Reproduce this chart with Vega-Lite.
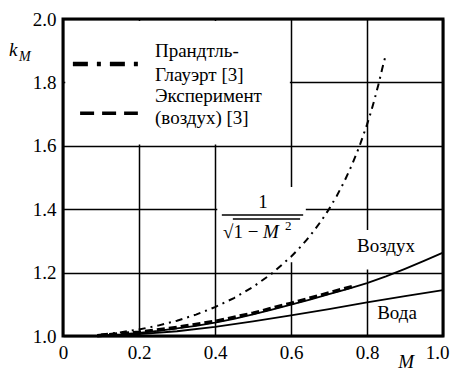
{
  "$schema": "https://vega.github.io/schema/vega-lite/v6.json",
  "width": 380,
  "height": 317,
  "autosize": {"type": "none"},
  "padding": {"left": 63, "top": 19, "right": 10, "bottom": 38},
  "background": "white",
  "config": {
    "view": {"stroke": "black", "strokeWidth": 3},
    "font": "Liberation Serif",
    "axis": {
      "domain": false, "ticks": false, "grid": true,
      "gridColor": "black", "gridWidth": 1.5, "gridOpacity": 1,
      "labelFont": "Liberation Serif", "labelFontSize": 19, "labelColor": "black",
      "labelPadding": 7, "labelFlush": false, "labelOverlap": false, "title": null
    }
  },
  "encoding": {
    "x": {"field": "x", "type": "quantitative",
      "scale": {"domain": [0, 1], "nice": false, "zero": false},
      "axis": {"values": [0, 0.2, 0.4, 0.6, 0.8, 1], "labelExpr": "datum.value == 0 ? '0' : format(datum.value, '.1f')",
        "labelOffset": {"condition": {"test": "datum.value == 1", "value": -6}, "value": 0}}},
    "y": {"field": "y", "type": "quantitative",
      "scale": {"domain": [1, 2], "nice": false, "zero": false},
      "axis": {"values": [1, 1.2, 1.4, 1.6, 1.8, 2], "format": ".1f"}}
  },
  "layer": [
    {
      "data": {"values": [
        {"x": 0.006, "x2": 0.597, "y": 1.604, "y2": 1.994},
        {"x": 0.406, "x2": 0.639, "y": 1.233, "y2": 1.47},
        {"x": 0.76, "x2": 0.94, "y": 1.21, "y2": 1.334}
      ]},
      "mark": {"type": "rect", "fill": "white", "stroke": null},
      "encoding": {"x2": {"field": "x2"}, "y2": {"field": "y2"}}
    },
    {
      "data": {"values": [
        {"x": 0.09, "y": 1.000}, {"x": 0.15, "y": 1.003}, {"x": 0.2, "y": 1.006}, {"x": 0.3, "y": 1.015},
        {"x": 0.4, "y": 1.029}, {"x": 0.5, "y": 1.046}, {"x": 0.6, "y": 1.065}, {"x": 0.7, "y": 1.085},
        {"x": 0.8, "y": 1.106}, {"x": 0.9, "y": 1.126}, {"x": 1.0, "y": 1.145}
      ]},
      "mark": {"type": "line", "color": "black", "strokeWidth": 1.8},
      "encoding": {}
    },
    {
      "data": {"values": [
        {"x": 0.09, "y": 1.001}, {"x": 0.15, "y": 1.005}, {"x": 0.2, "y": 1.010}, {"x": 0.25, "y": 1.016},
        {"x": 0.3, "y": 1.024}, {"x": 0.35, "y": 1.032}, {"x": 0.4, "y": 1.042}, {"x": 0.45, "y": 1.054},
        {"x": 0.5, "y": 1.068}, {"x": 0.55, "y": 1.083}, {"x": 0.6, "y": 1.099}, {"x": 0.65, "y": 1.115},
        {"x": 0.7, "y": 1.132}, {"x": 0.75, "y": 1.149}, {"x": 0.8, "y": 1.167}, {"x": 0.85, "y": 1.188},
        {"x": 0.9, "y": 1.212}, {"x": 0.95, "y": 1.237}, {"x": 1.0, "y": 1.263}
      ]},
      "mark": {"type": "line", "color": "black", "strokeWidth": 1.8},
      "encoding": {}
    },
    {
      "data": {"values": [
        {"x": 0.09, "y": 1.001}, {"x": 0.2, "y": 1.012}, {"x": 0.3, "y": 1.027}, {"x": 0.4, "y": 1.046},
        {"x": 0.5, "y": 1.072}, {"x": 0.6, "y": 1.103}, {"x": 0.7, "y": 1.136}, {"x": 0.77, "y": 1.159}
      ]},
      "mark": {"type": "line", "color": "black", "strokeWidth": 3.5, "strokeDash": [8, 4]},
      "encoding": {}
    },
    {
      "data": {"values": [
        {"x": 0.1, "y": 1.00504}, {"x": 0.15, "y": 1.01144}, {"x": 0.2, "y": 1.02062}, {"x": 0.25, "y": 1.0328},
        {"x": 0.3, "y": 1.04828}, {"x": 0.35, "y": 1.06752}, {"x": 0.4, "y": 1.09109}, {"x": 0.45, "y": 1.11979},
        {"x": 0.5, "y": 1.1547}, {"x": 0.55, "y": 1.19737}, {"x": 0.6, "y": 1.25}, {"x": 0.62, "y": 1.27453},
        {"x": 0.64, "y": 1.30145}, {"x": 0.66, "y": 1.33109}, {"x": 0.68, "y": 1.36386}, {"x": 0.7, "y": 1.40028},
        {"x": 0.72, "y": 1.44098}, {"x": 0.74, "y": 1.48676}, {"x": 0.76, "y": 1.53864}, {"x": 0.78, "y": 1.59801},
        {"x": 0.8, "y": 1.66667}, {"x": 0.81, "y": 1.70523}, {"x": 0.82, "y": 1.74714}, {"x": 0.83, "y": 1.79288},
        {"x": 0.84, "y": 1.84302}, {"x": 0.848, "y": 1.88}
      ]},
      "mark": {"type": "line", "color": "black", "strokeWidth": 2, "strokeDash": [7, 5, 2, 5]},
      "encoding": {}
    },
    {
      "data": {"values": [{"x": 0.026, "y": 1.858}, {"x": 0.197, "y": 1.858}]},
      "mark": {"type": "line", "color": "black", "strokeWidth": 4.5, "strokeDash": [15, 9, 4, 9]},
      "encoding": {}
    },
    {
      "data": {"values": [{"x": 0.045, "y": 1.703}, {"x": 0.197, "y": 1.703}]},
      "mark": {"type": "line", "color": "black", "strokeWidth": 3.5, "strokeDash": [14, 8]},
      "encoding": {}
    },
    {
      "data": {"values": [
        {"x": 0.242, "y": 1.899, "t": "Прандтль-"},
        {"x": 0.242, "y": 1.823, "t": "Глауэрт [3]"},
        {"x": 0.242, "y": 1.757, "t": "Эксперимент"},
        {"x": 0.242, "y": 1.688, "t": "(воздух) [3]"}
      ]},
      "mark": {"type": "text", "align": "left", "baseline": "middle", "fontSize": 19, "font": "Liberation Serif", "color": "black"},
      "encoding": {"text": {"field": "t"}}
    },
    {
      "data": {"values": [
        {"x": 0.85, "y": 1.284, "t": "Воздух"},
        {"x": 0.879, "y": 1.073, "t": "Вода"},
        {"x": 0.526, "y": 1.423, "t": "1"}
      ]},
      "mark": {"type": "text", "align": "center", "baseline": "middle", "fontSize": 19, "font": "Liberation Serif", "color": "black"},
      "encoding": {"text": {"field": "t"}}
    },
    {
      "data": {"values": [{"x": 0.421, "y": 1.328, "t": "√1 − "}]},
      "mark": {"type": "text", "align": "left", "baseline": "middle", "fontSize": 19, "font": "Liberation Serif", "color": "black"},
      "encoding": {"text": {"field": "t"}}
    },
    {
      "data": {"values": [
        {"x": 0.526, "y": 1.328, "t": "M"},
        {"x": 0.882, "y": 0.918, "t": "M"}
      ]},
      "mark": {"type": "text", "align": "left", "baseline": "middle", "fontSize": 19, "fontStyle": "italic", "font": "Liberation Serif", "color": "black"},
      "encoding": {"text": {"field": "t"}}
    },
    {
      "data": {"values": [{"x": -0.142, "y": 1.902, "t": "k"}]},
      "mark": {"type": "text", "align": "left", "baseline": "middle", "fontSize": 19, "fontStyle": "italic", "font": "Liberation Serif", "color": "black"},
      "encoding": {"text": {"field": "t"}}
    },
    {
      "data": {"values": [{"x": -0.116, "y": 1.88, "t": "M"}]},
      "mark": {"type": "text", "align": "left", "baseline": "middle", "fontSize": 14, "fontStyle": "italic", "font": "Liberation Serif", "color": "black"},
      "encoding": {"text": {"field": "t"}}
    },
    {
      "data": {"values": [{"x": 0.584, "y": 1.347, "t": "2"}]},
      "mark": {"type": "text", "align": "left", "baseline": "middle", "fontSize": 13, "font": "Liberation Serif", "color": "black"},
      "encoding": {"text": {"field": "t"}}
    },
    {
      "data": {"values": [
        {"x": 0.418, "x2": 0.632, "y": 1.382},
        {"x": 0.447, "x2": 0.624, "y": 1.369}
      ]},
      "mark": {"type": "rule", "color": "black", "strokeWidth": 1.5},
      "encoding": {"x2": {"field": "x2"}}
    }
  ]
}
